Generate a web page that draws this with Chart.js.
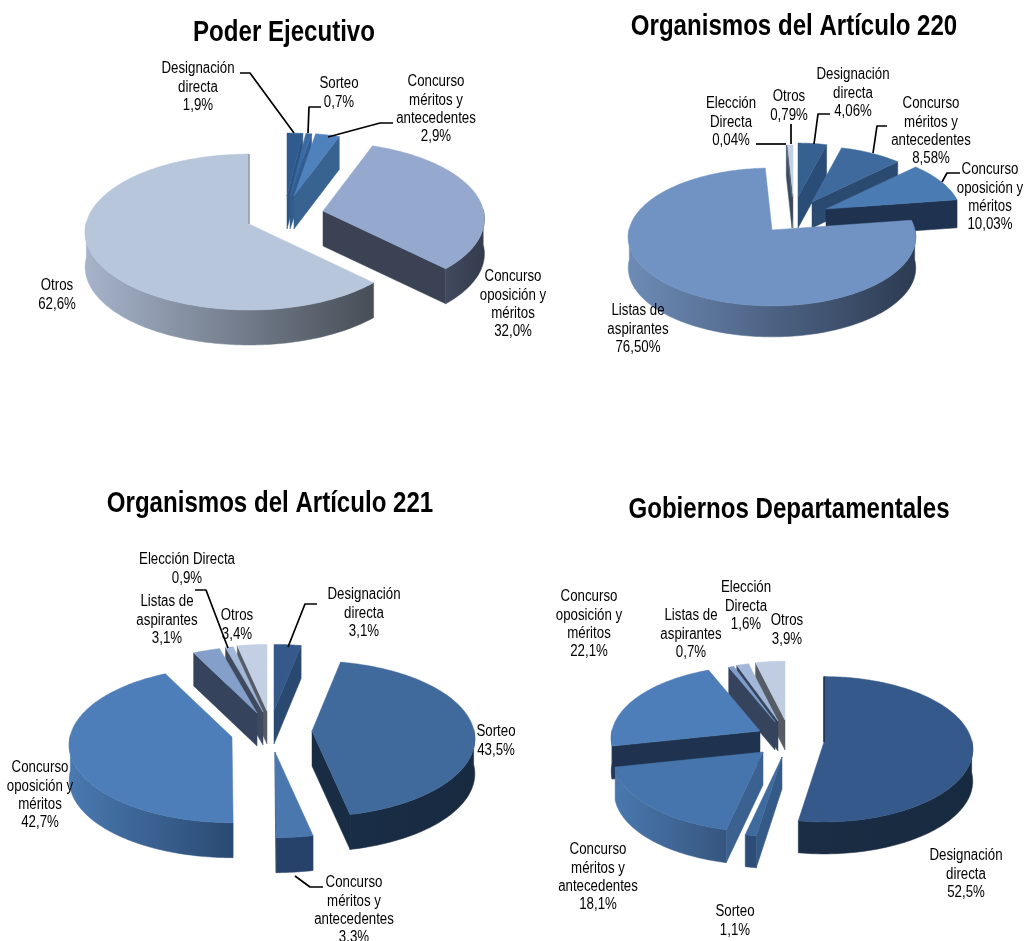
<!DOCTYPE html>
<html lang="es">
<head>
<meta charset="utf-8">
<title>Formas de ingreso</title>
<script src="https://cdn.jsdelivr.net/npm/chart.js@4"></script>
<style>
html,body{margin:0;padding:0;background:#fff;width:1024px;height:941px;overflow:hidden}
canvas{position:absolute;display:block}
</style>
</head>
<body>
<canvas id="c0"></canvas><canvas id="c1"></canvas><canvas id="c2"></canvas><canvas id="c3"></canvas>
<script>
// ---------- data ----------
const titles = ["Poder Ejecutivo","Organismos del Artículo 220","Organismos del Artículo 221","Gobiernos Departamentales"];

const categoriesPE  = ["Designación directa","Sorteo","Concurso méritos y antecedentes","Concurso oposición y méritos","Otros"];
const valuesPE      = [1.9,0.7,2.9,32.0,62.6];
const categories220 = ["Designación directa","Concurso méritos y antecedentes","Concurso oposición y méritos","Listas de aspirantes","Elección Directa","Otros"];
const values220     = [4.06,8.58,10.03,76.50,0.04,0.79];
const categories221 = ["Designación directa","Sorteo","Concurso méritos y antecedentes","Concurso oposición y méritos","Listas de aspirantes","Elección Directa","Otros"];
const values221     = [3.1,43.5,3.3,42.7,3.1,0.9,3.4];
const categoriesGD  = ["Designación directa","Sorteo","Concurso méritos y antecedentes","Concurso oposición y méritos","Listas de aspirantes","Elección Directa","Otros"];
const valuesGD      = [52.5,1.1,18.1,22.1,0.7,1.6,3.9];

const labelsPE  = [["Designación","directa","1,9%"],["Sorteo","0,7%"],["Concurso","méritos y","antecedentes","2,9%"],["Concurso","oposición y","méritos","32,0%"],["Otros","62,6%"]];
const labels220 = [["Designación","directa","4,06%"],["Concurso","méritos y","antecedentes","8,58%"],["Concurso","oposición y","méritos","10,03%"],["Listas de","aspirantes","76,50%"],["Elección","Directa","0,04%"],["Otros","0,79%"]];
const labels221 = [["Designación","directa","3,1%"],["Sorteo","43,5%"],["Concurso","méritos y","antecedentes","3,3%"],["Concurso","oposición y","méritos","42,7%"],["Listas de","aspirantes","3,1%"],["Elección Directa","0,9%"],["Otros","3,4%"]];
const labelsGD  = [["Designación","directa","52,5%"],["Sorteo","1,1%"],["Concurso","méritos y","antecedentes","18,1%"],["Concurso","oposición y","méritos","22,1%"],["Listas de","aspirantes","0,7%"],["Elección","Directa","1,6%"],["Otros","3,9%"]];

// ---------- layout and styles (separate from the data) ----------
const layouts = [
 {box:[0,0,568,470], titleY:33, titleX:284, R:163, k:.473, p:.103, depth:35,
  order:[0,1,2,3,4],
  // slice apex on screen [x,y,radius scale, depth]
  tips:[[287,196,.9,33],[290,196,.9,33],[294,196,.9,33],[323,211,.985,35],[249,224,1,35]],
  top:["#2f5b8e","#3a6aa2","#4f81bd","#95a9ce","#b8c6dc"],
  wall:["#2c5483","#325c8e","#38628f","#3a4254","#8d99ad"],
  outer:[["#2f5b8e","#2f5b8e"],["#2f5b8e","#2f5b8e"],["#38628f","#38628f"],["#414a5e","#333b4c"],["#a6b3ca","#474e56"]],
  labelX:[198,339,436,513,57], labelY:[69,84,82,277,286],
  leaders:[[[240,73],[250,73],[294,133]],[[321,107],[309,107],[308,133]],[[393,123],[380,123],[328,137]]]},
 {box:[568,0,456,470], titleY:27, titleX:794, R:143, k:.477, p:.101, depth:31,
  order:[5,4,0,1,2,3],
  tips:[[798,197,.87,31],[812,202,.9,26],[826,209,.94,28],[772,230,1,31],[792,197,.84,31],[793,197,.84,31]],
  top:["#36608f","#3e6a9e","#4a7bb3","#7093c3","#5c6e8c","#c3d0e4"],
  wall:["#2a4d78","#2a4a70","#1f3350","#3a4d6c","#3b4a60","#4e5867"],
  outer:[["#2a4d78","#2a4d78"],["#2a4a70","#2a4a70"],["#1f3350","#1f3350"],["#6d8bb6","#2d3b52"],["#3b4a60","#3b4a60"],["#4e5867","#4e5867"]],
  labelX:[853,931,990,638,731,789], labelY:[75,104,170,311,104,97],
  leaders:[[[756,144],[786,144]],[[791,124],[791,144]],[[830,114],[818,114],[814,144]],[[887,126],[877,126],[873,153]],[[960,173],[947,173],[942,182]]]},
 {box:[0,470,554,471], titleY:504, titleX:270, R:162, k:.476, p:.1, depth:35,
  order:[6,5,4,0,1,3,2],
  tips:[[274,711,.95,33],[312,731,1,35],[275,752,1,35],[232,737,1,35],[257,713,.95,33],[263,712,.95,33],[267,711,.95,33]],
  top:["#34598a","#406a9c","#4a78ae","#4d7eb9","#84a0ca","#a3b8d8","#c3d0e4"],
  wall:["#2a4970","#182c44","#26416a","#2a4a72","#35445c","#3f4a5e","#555c66"],
  outer:[["#2a4970","#2a4970"],["#192d46","#182a40"],["#26416a","#26416a"],["#4a79b0","#2a4a72"],["#35445c","#35445c"],["#3f4a5e","#3f4a5e"],["#555c66","#555c66"]],
  labelX:[364,496,354,40,167,187,237], labelY:[595,732,883,768,602,560,616],
  leaders:[[[195,590],[206,590],[228,648]],[[317,604],[305,604],[288,647]],[[323,887],[310,887],[295,876]]]},
 {box:[554,470,470,471], titleY:510, titleX:789, R:148, k:.486, p:.1, depth:32,
  order:[6,5,4,3,2,1,0],
  tips:[[824,742,1,32],[782,757,1,32],[763,752,1,33],[760,731,1,33],[775,722,.9,28],[778,721,.9,30],[785,720,.9,30]],
  top:["#34598a","#3e6a9e","#4674ac","#4d7eb9","#7f9bc8","#a3b8d8","#bfcce2"],
  wall:["#1a2d44","#345a88","#3a6190","#1f3350","#35445c","#35445c","#555c66"],
  outer:[["#1a2d44","#172a40"],["#2c4d78","#2c4d78"],["#4a78ae","#36567f"],["#1f3350","#1f3350"],["#35445c","#35445c"],["#35445c","#35445c"],["#555c66","#555c66"]],
  labelX:[966,735,598,589,691,746,787], labelY:[856,912,850,597,616,588,621],
  leaders:[]}
];
const FAMILY = "'Liberation Sans',Arial,sans-serif";
const LABEL_FONT = "16px "+FAMILY;
const TITLE_FONT = "bold 29px "+FAMILY;
const SQUEEZE = .83;   // the reference type is a narrow grotesque
const LINE_H = 18.3;

function narrowText(ctx,s,x,y){
  ctx.save(); ctx.translate(x,y); ctx.scale(SQUEEZE,1); ctx.fillText(s,0,0); ctx.restore();
}

// ---------- 3D-look rendering of the library's own arc elements ----------
const pie3d = {
  id:'pie3d',
  beforeDatasetDraw(chart){
    const L = chart.options.plugins.pie3d.layout;
    const ctx = chart.ctx, arcs = chart.getDatasetMeta(0).data;
    const ox = L.box[0], oy = L.box[1];
    L.order.forEach(i=>{
      const arc = arcs[i], t = L.tips[i];
      const tx = t[0]-ox, ty = t[1]-oy, r = arc.outerRadius*t[2], d = t[3];
      const pt = a=>{ const s = 1/(1-L.p*Math.sin(a));
        return [tx+r*Math.cos(a)*s, ty+L.k*r*Math.sin(a)*s]; };
      const a0 = arc.startAngle, a1 = arc.endAngle;
      const th0 = a0+Math.PI/2, th1 = a1+Math.PI/2;
      const poly = (pts,fill)=>{ ctx.beginPath(); pts.forEach((q,n)=>n?ctx.lineTo(q[0],q[1]):ctx.moveTo(q[0],q[1]));
        ctx.closePath(); ctx.fillStyle=fill; ctx.strokeStyle=fill; ctx.lineWidth=.5; ctx.fill(); ctx.stroke(); };
      // cut faces
      if(Math.sin(th0)<0){ const e=pt(a0); poly([[tx,ty],e,[e[0],e[1]+d],[tx,ty+d]],L.wall[i]); }
      if(Math.sin(th1)>0.001){ const e=pt(a1); poly([[tx,ty],e,[e[0],e[1]+d],[tx,ty+d]],L.wall[i]); }
      // outer curved face, front half only
      const lo = Math.max(a0,-0.02), hi = Math.min(a1,Math.PI+0.02);
      if(hi>lo){
        const up=[],dn=[]; const n=Math.ceil((hi-lo)/0.02);
        for(let j=0;j<=n;j++){ const q=pt(lo+(hi-lo)*j/n); up.push(q); dn.unshift([q[0],q[1]+d]); }
        const xs=up.map(q=>q[0]), g=ctx.createLinearGradient(Math.min(...xs),0,Math.max(...xs),0);
        g.addColorStop(0,L.outer[i][0]); g.addColorStop(1,L.outer[i][1]);
        poly(up.concat(dn),g);
      }
      // top face
      const topPts=[[tx,ty]]; const n=Math.max(2,Math.ceil((a1-a0)/0.02));
      for(let j=0;j<=n;j++) topPts.push(pt(a0+(a1-a0)*j/n));
      poly(topPts,arc.options.backgroundColor);
      // sliver of the nearly edge-on cut face on large slices that meet the 12 o'clock line
      if(a1-a0>Math.PI){
        const e = Math.abs(Math.sin(th0))<.001 ? pt(a0) : Math.abs(Math.sin(th1))<.001 ? pt(a1) : null;
        if(e){ ctx.beginPath(); ctx.moveTo(tx,ty); ctx.lineTo(e[0],e[1]); ctx.strokeStyle=L.wall[i]; ctx.lineWidth=1.5; ctx.stroke(); }
      }
    });
    return false;
  },
  afterDraw(chart){
    const cfg = chart.options.plugins.pie3d, L = cfg.layout, texts = cfg.texts;
    const ctx = chart.ctx, ox=L.box[0], oy=L.box[1];
    ctx.save();
    ctx.strokeStyle="#000"; ctx.lineWidth=1.7; ctx.lineJoin="round";
    L.leaders.forEach(seg=>{ ctx.beginPath(); seg.forEach((q,n)=>n?ctx.lineTo(q[0]-ox,q[1]-oy):ctx.moveTo(q[0]-ox,q[1]-oy)); ctx.stroke(); });
    ctx.textAlign="center"; ctx.textBaseline="middle";
    ctx.fillStyle="#000"; ctx.font=TITLE_FONT;
    narrowText(ctx,cfg.title,L.titleX-ox,L.titleY-oy);
    ctx.font=LABEL_FONT;
    texts.forEach((lines,i)=>lines.forEach((s,j)=>narrowText(ctx,s,L.labelX[i]-ox,L.labelY[i]-oy+j*LINE_H)));
    ctx.restore();
  }
};

const sets = [[categoriesPE,valuesPE,labelsPE],[categories220,values220,labels220],[categories221,values221,labels221],[categoriesGD,valuesGD,labelsGD]];
sets.forEach((set,idx)=>{
  const L = layouts[idx], el = document.getElementById('c'+idx);
  el.width=L.box[2]; el.height=L.box[3];
  el.style.left=L.box[0]+'px'; el.style.top=L.box[1]+'px';
  new Chart(el,{
    type:'pie',
    data:{labels:set[0],datasets:[{data:set[1],backgroundColor:L.top,borderWidth:0}]},
    options:{
      responsive:false,animation:false,devicePixelRatio:1,radius:L.R,rotation:0,
      plugins:{
        legend:{display:false},tooltip:{enabled:false},
        pie3d:{layout:L,texts:set[2],title:titles[idx]}
      }
    },
    plugins:[pie3d]
  });
});
</script>
</body>
</html>
